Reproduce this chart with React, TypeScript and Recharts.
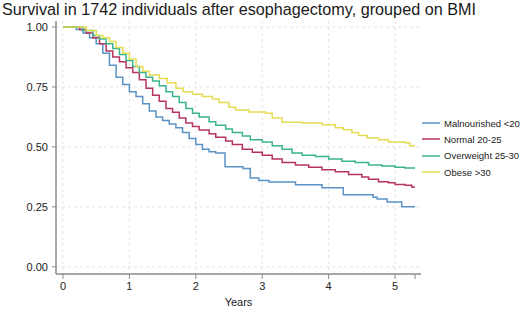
import React from 'react';
import { LineChart, Line, XAxis, YAxis, CartesianGrid, Legend } from 'recharts';

const title = 'Survival in 1742 individuals after esophagectomy, grouped on BMI';
const xLabel = 'Years';
const seriesNames = ['Malnourished <20', 'Normal 20-25', 'Overweight 25-30', 'Obese >30'];
const seriesColors = ['#5a92c6', '#b6345c', '#3ab48d', '#e5dc52'];
const xTicks = [0, 1, 2, 3, 4, 5, 5.3];
const yTicks = [0, 0.25, 0.5, 0.75, 1];

const malnourished: [number, number][] = [
  [0, 1], [0.12, 1], [0.2, 0.99], [0.3, 0.975], [0.4, 0.955], [0.5, 0.93], [0.6, 0.89],
  [0.7, 0.84], [0.8, 0.79], [0.9, 0.76], [1.0, 0.73], [1.1, 0.71], [1.2, 0.68], [1.3, 0.65],
  [1.4, 0.625], [1.5, 0.61], [1.6, 0.595], [1.7, 0.58], [1.8, 0.56], [1.9, 0.535], [2.0, 0.51],
  [2.1, 0.49], [2.2, 0.48], [2.3, 0.475], [2.44, 0.417], [2.71, 0.41], [2.82, 0.37], [2.95, 0.36],
  [3.1, 0.354], [3.5, 0.342], [3.9, 0.33], [4.22, 0.3], [4.67, 0.29], [4.73, 0.283], [4.88, 0.27],
  [5.1, 0.25], [5.3, 0.25],
];
const normal: [number, number][] = [
  [0, 1], [0.15, 1], [0.25, 0.99], [0.35, 0.975], [0.45, 0.955], [0.55, 0.93], [0.65, 0.9],
  [0.75, 0.875], [0.85, 0.855], [0.95, 0.83], [1.05, 0.81], [1.15, 0.78], [1.25, 0.745],
  [1.35, 0.715], [1.45, 0.69], [1.55, 0.66], [1.65, 0.645], [1.75, 0.62], [1.85, 0.6],
  [1.95, 0.585], [2.05, 0.57], [2.2, 0.555], [2.3, 0.54], [2.45, 0.525], [2.55, 0.51],
  [2.7, 0.49], [2.85, 0.478], [3.0, 0.465], [3.15, 0.45], [3.3, 0.435], [3.5, 0.425],
  [3.7, 0.415], [3.9, 0.405], [4.1, 0.396], [4.3, 0.385], [4.5, 0.375], [4.6, 0.365],
  [4.75, 0.355], [4.9, 0.35], [5.0, 0.343], [5.15, 0.34], [5.25, 0.333], [5.3, 0.333],
];
const overweight: [number, number][] = [
  [0, 1], [0.15, 1], [0.3, 0.985], [0.45, 0.965], [0.55, 0.95], [0.65, 0.93], [0.75, 0.91],
  [0.85, 0.885], [0.95, 0.86], [1.05, 0.835], [1.15, 0.81], [1.25, 0.79], [1.35, 0.775],
  [1.45, 0.755], [1.55, 0.73], [1.65, 0.71], [1.75, 0.685], [1.85, 0.66], [1.95, 0.64],
  [2.05, 0.625], [2.2, 0.605], [2.3, 0.59], [2.45, 0.575], [2.55, 0.56], [2.7, 0.545],
  [2.82, 0.53], [3.0, 0.52], [3.15, 0.505], [3.3, 0.49], [3.45, 0.475], [3.6, 0.465],
  [3.8, 0.46], [4.0, 0.45], [4.2, 0.44], [4.4, 0.435], [4.6, 0.425], [4.8, 0.42], [5.0, 0.415],
  [5.15, 0.412], [5.3, 0.412],
];
const obese: [number, number][] = [
  [0, 1], [0.2, 1], [0.35, 0.985], [0.5, 0.965], [0.6, 0.955], [0.7, 0.94], [0.8, 0.915],
  [0.9, 0.89], [1.0, 0.865], [1.1, 0.835], [1.2, 0.815], [1.3, 0.8], [1.45, 0.785],
  [1.57, 0.767], [1.7, 0.745], [1.81, 0.73], [1.95, 0.72], [2.1, 0.71], [2.25, 0.7],
  [2.35, 0.685], [2.5, 0.665], [2.6, 0.654], [2.8, 0.646], [3.05, 0.64], [3.15, 0.62],
  [3.3, 0.603], [3.6, 0.6], [3.9, 0.592], [4.1, 0.58], [4.22, 0.571], [4.35, 0.56],
  [4.45, 0.548], [4.58, 0.537], [4.75, 0.53], [4.9, 0.52], [5.15, 0.517], [5.22, 0.505],
  [5.3, 0.505],
];

const allSeries = [malnourished, normal, overweight, obese].map((pts) =>
  pts.map(([t, s]) => ({ t, s }))
);

const FONT = '"Liberation Sans", Arial, Helvetica, sans-serif';

const renderLegend = (props: any) => {
  const payload = [...(props.payload || [])].sort(
    (a: any, b: any) => seriesNames.indexOf(a.value) - seriesNames.indexOf(b.value)
  );
  return (
    <div style={{ fontFamily: FONT, fontSize: 9.5, color: '#222' }}>
      {payload.map((p: any, i: number) => (
        <div key={i} style={{ display: 'flex', alignItems: 'center', height: 16.3 }}>
          <svg width={22} height={4} style={{ display: 'block' }}>
            <line x1={0} y1={2} x2={18} y2={2} stroke={p.color} strokeWidth={1.5} />
          </svg>
          <span style={{ whiteSpace: 'nowrap' }}>{p.value}</span>
        </div>
      ))}
    </div>
  );
};

export default function App() {
  return (
    <div style={{ position: 'absolute', left: 0, top: 0, width: 520, height: 309, background: '#fff', overflow: 'hidden' }}>
      <div
        style={{
          position: 'absolute', left: 2, top: 0, fontFamily: FONT, fontSize: 16.2,
          lineHeight: '18px', color: '#1a1a1a', whiteSpace: 'nowrap', zIndex: 2,
        }}
      >
        {title}
      </div>
      <LineChart width={520} height={309} margin={{ top: 21, right: 99, bottom: 0, left: 0 }}>
        <CartesianGrid
          stroke="#e4e4e4"
          strokeDasharray="3 3"
          verticalValues={[0, 1, 2, 3, 4, 5]}
          horizontalValues={yTicks}
        />
        <XAxis
          dataKey="t"
          type="number"
          domain={[-0.105, 5.39]}
          ticks={xTicks}
          allowDataOverflow
          tickFormatter={(v: number) => (Number.isInteger(v) ? String(v) : '')}
          height={35}
          tickSize={5}
          tickMargin={3}
          axisLine={{ stroke: '#8a8a8a', strokeWidth: 1.5 }}
          tickLine={{ stroke: '#8a8a8a' }}
          tick={{ fill: '#222', fontSize: 11, fontFamily: FONT }}
          label={{ value: xLabel, position: 'insideBottom', offset: 3, fill: '#222', fontSize: 11, fontFamily: FONT }}
        />
        <YAxis
          type="number"
          domain={[-0.03, 1.025]}
          ticks={yTicks}
          allowDataOverflow
          tickFormatter={(v: number) => v.toFixed(2)}
          width={56}
          tickSize={4}
          tickMargin={4}
          axisLine={{ stroke: '#8a8a8a', strokeWidth: 1.5 }}
          tickLine={{ stroke: '#8a8a8a' }}
          tick={{ fill: '#222', fontSize: 11, fontFamily: FONT }}
        />
        {allSeries.map((d, i) => (
          <Line
            key={seriesNames[i]}
            data={d}
            dataKey="s"
            name={seriesNames[i]}
            type="stepAfter"
            stroke={seriesColors[i]}
            strokeWidth={1.5}
            dot={false}
            activeDot={false}
            isAnimationActive={false}
          />
        ))}
        <Legend
          layout="vertical"
          align="center"
          verticalAlign="middle"
          content={renderLegend}
          wrapperStyle={{ position: 'absolute', left: 422, top: 115, width: 100 }}
        />
      </LineChart>
    </div>
  );
}
